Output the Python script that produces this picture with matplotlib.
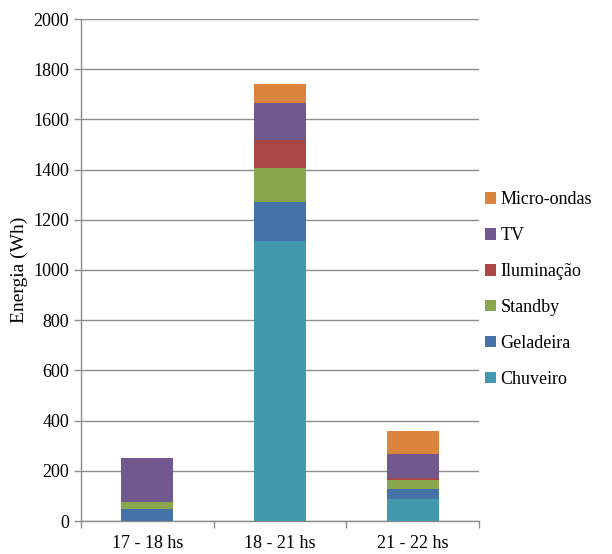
import numpy as np
import matplotlib
matplotlib.use("Agg")
import matplotlib.pyplot as plt
from matplotlib.patches import Patch

# -------------------------------------------------------------------
# Data
# -------------------------------------------------------------------

periods = ["17 - 18 hs", "18 - 21 hs", "21 - 22 hs"]

chuveiro = [0, 1115, 87]
geladeira = [46, 157, 41]
standby = [31, 133, 34]
iluminacao = [0, 114, 8]
tv = [175, 148, 95]
micro_ondas = [0, 76, 93]

series = [
    ("Chuveiro", chuveiro, "#4198AF"),
    ("Geladeira", geladeira, "#4573A7"),
    ("Standby", standby, "#89A54E"),
    ("Iluminação", iluminacao, "#AA4643"),
    ("TV", tv, "#71588F"),
    ("Micro-ondas", micro_ondas, "#DB843D"),
]

AXIS_GRAY = "#8C8C8C"

plt.rcParams["font.family"] = ["Liberation Serif", "DejaVu Serif"]

fig = plt.figure(figsize=(6.12, 5.54), dpi=100)
ax = fig.add_axes([81 / 612, 1 - 521 / 554, (479 - 81) / 612, (521 - 19) / 554])

x = np.arange(len(periods))
bottom = np.zeros(len(periods))
for name, vals, color in series:
    vals = np.array(vals, dtype=float)
    ax.bar(x, vals, width=0.39, bottom=bottom, color=color, label=name, zorder=3)
    bottom += vals

ax.set_xlim(-0.5, len(periods) - 0.5)
ax.set_ylim(0, 2000)
ax.set_yticks(np.arange(0, 2001, 200))
ax.tick_params(axis="y", labelsize=13, length=5, color=AXIS_GRAY, width=1)

# category labels centred, tick marks at category borders
ax.set_xticks(x)
ax.set_xticklabels(periods, fontsize=13)
ax.set_xticks(np.arange(-0.5, len(periods), 1.0), minor=True)
ax.tick_params(axis="x", which="major", length=0, pad=10)
ax.tick_params(axis="x", which="minor", length=5, color=AXIS_GRAY, width=1)

ax.grid(axis="y", color=AXIS_GRAY, linewidth=1, zorder=0)
for side in ["top", "right"]:
    ax.spines[side].set_visible(False)
for side in ["left", "bottom"]:
    ax.spines[side].set_color(AXIS_GRAY)
    ax.spines[side].set_linewidth(1)

ax.set_ylabel("Energia (Wh)", fontsize=14, labelpad=4)

# legend, reversed order (top of stack first)
handles = [Patch(facecolor=c, label=n) for n, _, c in reversed(series)]
fig.legend(
    handles=handles,
    loc="upper left",
    bbox_to_anchor=(469 / 612, 1 - 175 / 554),
    frameon=False,
    fontsize=13,
    handlelength=0.6,
    handleheight=0.6,
    handletextpad=0.25,
    labelspacing=1.05,
)

fig.savefig("out.png", dpi=100)
